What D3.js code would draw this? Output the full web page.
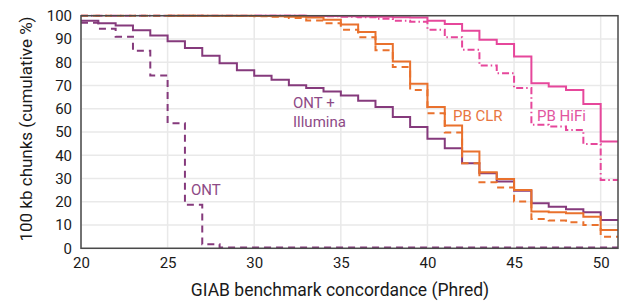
<!DOCTYPE html>
<html>
<head>
<meta charset="utf-8">
<script src="https://cdn.jsdelivr.net/npm/d3@7/dist/d3.min.js"></script>
<style>
body { margin: 0; background: #fff; }
svg text { font-family: Roboto, sans-serif; }
</style>
</head>
<body>
<svg id="chart"></svg>
<script>
// bin starts (Phred), each value covers [bin, bin+1)
var phredBins = [20,21,22,23,24,25,26,27,28,29,30,31,32,33,34,35,36,37,38,39,40,41,42,43,44,45,46,47,48,49,50];

var ontIllumina = [97.8,96.8,95.8,93.7,91.5,89.0,86.1,82.8,79.6,76.6,74.2,72.5,70.1,68.9,67.4,65.7,63.4,60.7,56.4,52.1,47.1,43.0,36.6,32.3,28.7,24.7,19.4,17.9,16.8,15.5,12.2];
var ontOnly = [97.0,94.4,91.0,84.9,74.3,53.8,18.7,1.7,0.3,0.3,0.3,0.3,0.3,0.3,0.3,0.3,0.3,0.3,0.3,0.3,0.3,0.3,0.3,0.3,0.3,0.3,0.3,0.3,0.3,0.3,0.3];
var clrSolid = [null,null,null,null,null,100,100,100,100,100,99.9,99.8,99.6,99.2,98.3,96.2,93.0,87.8,80.3,70.7,60.7,52.8,41.6,32.7,29.8,25.1,15.8,15.5,15.1,13.6,7.9];
var clrDashed = [100,100,100,100,100,100,100,99.9,99.9,99.9,99.8,99.5,99.0,97.9,96.8,94.0,90.7,85.2,77.9,68.1,58.1,49.8,36.6,28.4,26.1,20.1,12.6,11.9,11.2,10.0,5.0];
var hifiSolid = [null,null,null,null,null,null,null,null,null,null,100,100,100,99.9,99.9,99.8,99.7,99.5,99.3,99.2,97.8,96.4,93.5,89.7,87.8,82.5,71.0,69.6,68.1,62.0,45.9];
var hifiDashDot = [100,100,100,100,100,100,100,100,100,100,100,100,100,99.9,99.8,99.6,99.3,98.7,97.8,97.4,94.0,90.7,85.4,78.6,75.3,68.9,53.1,52.4,50.9,44.8,29.4];

var xTicks = [20,25,30,35,40,45,50];
var yTicks = [0,10,20,30,40,50,60,70,80,90,100];

var purple = "#853a7c";
var orange = "#e9712d";
var pink = "#e6479b";

var series = [
    {values: hifiDashDot, color: pink, dash: "7,3,1.5,3"},
    {values: hifiSolid, color: pink, dash: null},
    {values: ontOnly, color: purple, dash: "7,5"},
    {values: ontIllumina, color: purple, dash: null},
    {values: clrDashed, color: orange, dash: "7,5"},
    {values: clrSolid, color: orange, dash: null}
];

var labels = [
    {lines: ["ONT +", "Illumina"], x: 293, y: 108, color: "#8e4a86"},
    {lines: ["ONT"], x: 191, y: 195, color: "#8e4a86"},
    {lines: ["PB CLR"], x: 453, y: 121, color: "#e8763f"},
    {lines: ["PB HiFi"], x: 537, y: 121, color: "#e2559f"}
];

var width = 624;
var height = 303;
var margin = {left: 81, right: 6, top: 15.7, bottom: 54.7};

var svg = d3.select("#chart")
    .attr("width", width)
    .attr("height", height);

var xScale = d3.scaleLinear()
    .domain([20, 51])
    .range([margin.left, width - margin.right]);

var yScale = d3.scaleLinear()
    .domain([0, 100])
    .range([height - margin.bottom, margin.top]);

// grid
svg.append("g")
    .selectAll("line.gy")
    .data(yTicks)
    .enter()
    .append("line")
    .attr("x1", xScale(20))
    .attr("x2", xScale(51))
    .attr("y1", function(d) { return yScale(d); })
    .attr("y2", function(d) { return yScale(d); })
    .attr("stroke", "#e9e9e9")
    .attr("stroke-width", 1.5);

svg.append("g")
    .selectAll("line.gx")
    .data(xTicks)
    .enter()
    .append("line")
    .attr("x1", function(d) { return xScale(d); })
    .attr("x2", function(d) { return xScale(d); })
    .attr("y1", yScale(0))
    .attr("y2", yScale(100))
    .attr("stroke", "#e9e9e9")
    .attr("stroke-width", 1.5);

// step lines
var toPoints = function(values)
{
    var pts = values.map(function(v, i) { return [phredBins[i], v]; });
    pts.push([51, values[values.length - 1]]);
    return pts;
};

var line = d3.line()
    .defined(function(d) { return d[1] != null; })
    .x(function(d) { return xScale(d[0]); })
    .y(function(d) { return yScale(d[1]); })
    .curve(d3.curveStepAfter);

svg.append("g")
    .selectAll("path")
    .data(series)
    .enter()
    .append("path")
    .attr("d", function(s) { return line(toPoints(s.values)); })
    .attr("fill", "none")
    .attr("stroke", function(s) { return s.color; })
    .attr("stroke-width", 2)
    .attr("stroke-dasharray", function(s) { return s.dash; });

// frame
svg.append("rect")
    .attr("x", xScale(20))
    .attr("y", yScale(100))
    .attr("width", xScale(51) - xScale(20))
    .attr("height", yScale(0) - yScale(100))
    .attr("fill", "none")
    .attr("stroke", "#4a4a4a")
    .attr("stroke-width", 1.5);

// axes
var xAxis = svg.append("g")
    .attr("transform", "translate(0," + yScale(0) + ")")
    .call(d3.axisBottom(xScale).tickValues(xTicks).tickSize(0).tickPadding(9));

var yAxis = svg.append("g")
    .attr("transform", "translate(" + xScale(20) + ",0)")
    .call(d3.axisLeft(yScale).tickValues(yTicks).tickSize(0).tickPadding(9));

xAxis.select(".domain").remove();
yAxis.select(".domain").remove();
svg.selectAll(".tick text")
    .attr("font-size", 15)
    .attr("font-family", "Roboto, sans-serif")
    .attr("fill", "#1a1a1a");

svg.append("text")
    .attr("x", 340)
    .attr("y", 296)
    .attr("text-anchor", "middle")
    .attr("font-size", 17.5)
    .attr("fill", "#1a1a1a")
    .text("GIAB benchmark concordance (Phred)");

svg.append("text")
    .attr("transform", "translate(32,129) rotate(-90)")
    .attr("text-anchor", "middle")
    .attr("font-size", 17)
    .attr("fill", "#1a1a1a")
    .text("100 kb chunks (cumulative %)");

// series labels
labels.forEach(function(l)
{
    var t = svg.append("text")
        .attr("x", l.x)
        .attr("y", l.y)
        .attr("font-size", 15)
        .attr("fill", l.color);
    l.lines.forEach(function(s, i)
    {
        t.append("tspan")
            .attr("x", l.x)
            .attr("dy", i == 0 ? 0 : 18.5)
            .text(s);
    });
});
</script>
</body>
</html>
